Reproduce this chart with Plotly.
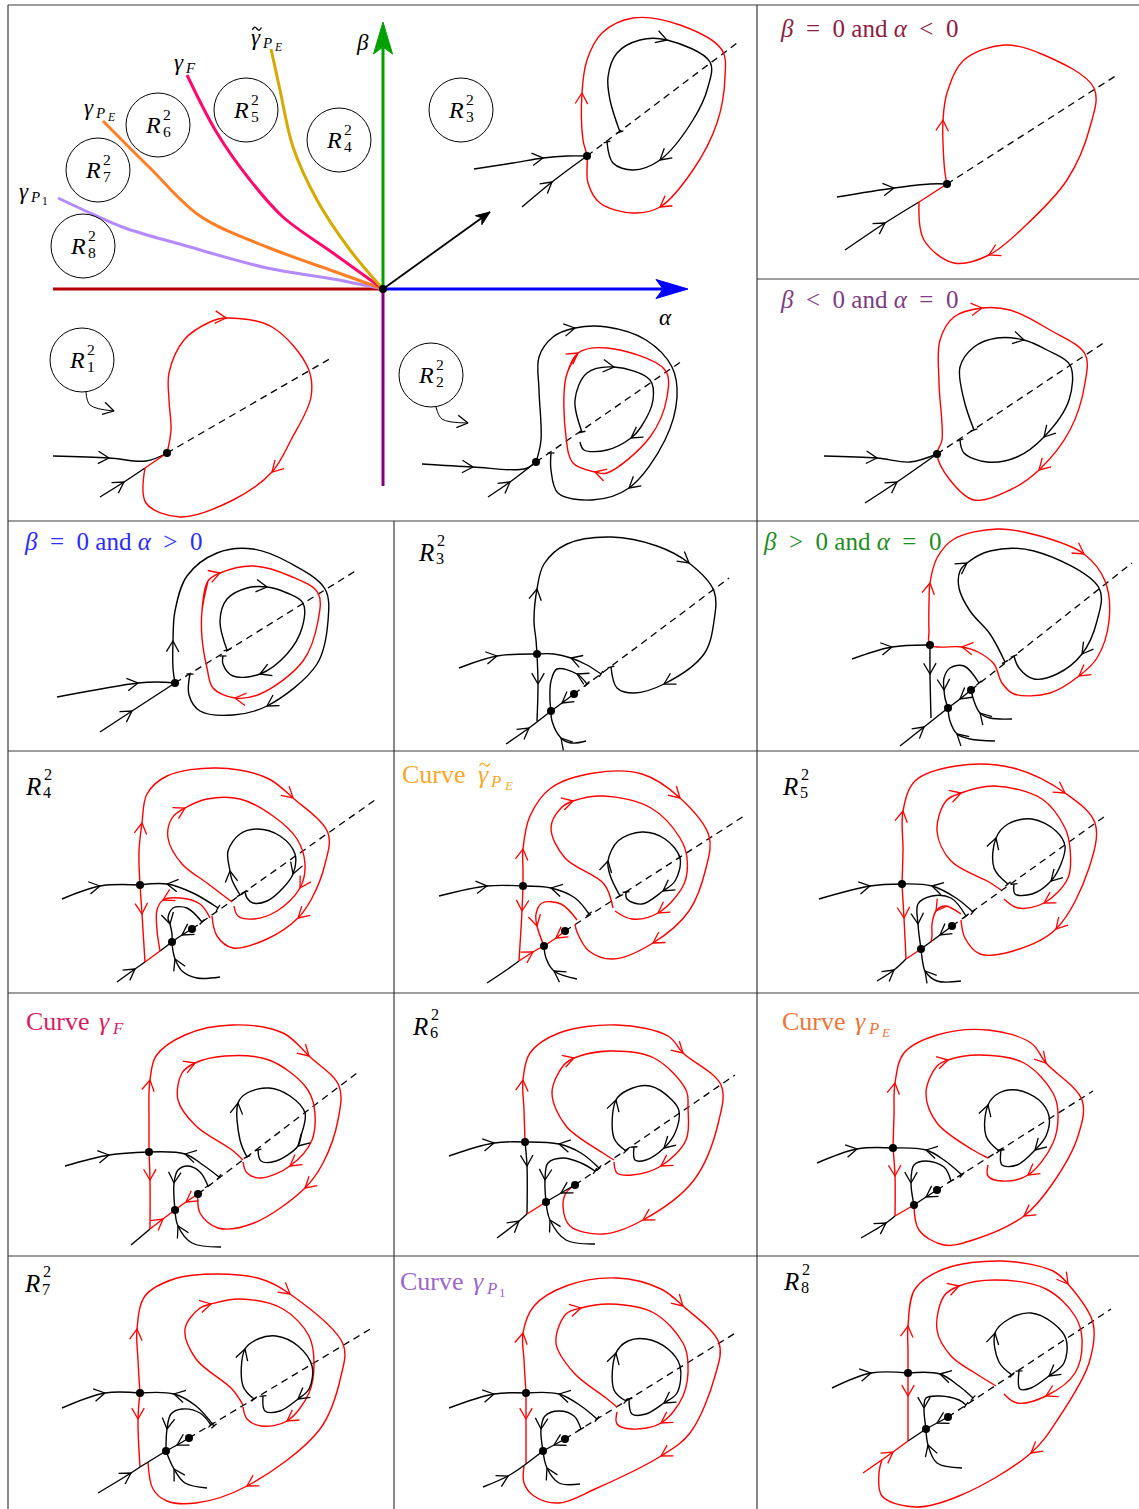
import math
import plotly.graph_objects as go

W, H = 1139, 1509
FONT = "Liberation Serif"
RED = "#ff0000"
BLK = "#000000"

# ---------------- frame ----------------
frame_h_y = [5, 279, 521, 751, 993, 1256]
frame_h_x0 = [8, 757, 8, 8, 8, 8]
frame_v_x = [8, 757, 394]
frame_v_y0 = [5, 5, 521]

# ---------------- main bifurcation diagram ----------------
origin = (383, 289)
alpha_neg_end = (53, 289)
alpha_pos_end = (688, 289)
beta_pos_end = (383, 22)
beta_neg_end = (383, 486)
diag_end = (490, 212)
gamma_P1 = [(58, 198), (88, 212), (125, 228), (183, 245), (267, 268), (333, 279), (383, 289)]
gamma_PE = [(103, 121), (150, 168), (200, 216), (267, 247), (333, 271), (383, 289)]
gamma_F = [(187, 75), (217, 133), (250, 180), (283, 217), (333, 253), (383, 289)]
gamma_tPE = [(271, 49), (280, 90), (293, 147), (317, 200), (350, 250), (383, 289)]
circle_names = ["8", "7", "6", "5", "4", "3", "1", "2"]
circle_cx = [83, 98, 158, 246, 339, 461, 82, 431]
circle_cy = [246, 170, 125, 110, 140, 110, 360, 375]
ptr_R1 = [(86, 392), (90, 405), (114, 411)]
ptr_R2 = [(436, 407), (442, 419), (468, 423)]

# R3 portrait in main
m3_in1 = [(474, 169), (513, 163), (543, 158), (567, 156), (587, 156)]
m3_in2 = [(522, 207), (552, 182), (587, 156)]
m3_dash = [(587, 156), (737, 43)]
m3_red = [(587, 156), (583, 140), (582, 93), (587, 60), (602, 33), (633, 18), (680, 25), (722, 50), (725, 77),
          (717, 123), (693, 170), (660, 207), (633, 213), (600, 203), (588, 183), (587, 156)]
m3_blk = [(620, 132), (610, 100), (608, 77), (617, 53), (640, 40), (667, 40), (710, 62), (708, 87), (693, 120),
          (660, 160), (633, 170), (613, 163), (607, 142)]
m3_dots = [(587, 156)]
# R1 portrait
m1_in1 = [(53, 456), (109, 458), (146, 461), (167, 453)]
m1_in2 = [(100, 497), (124, 482), (145, 468)]
m1_seg = [(145, 468), (167, 453)]
m1_dash = [(167, 453), (333, 357)]
m1_red = [(167, 453), (171, 430), (169, 400), (169, 373), (184, 340), (210, 322), (226, 318), (272, 327), (308, 368),
          (311, 397), (291, 440), (272, 472), (233, 500), (180, 517), (146, 503), (145, 468)]
m1_dots = [(167, 453)]
# R2 portrait
m2_in1 = [(422, 464), (473, 467), (524, 469), (536, 462)]
m2_in2 = [(488, 497), (510, 482), (536, 462)]
m2_dash = [(536, 462), (682, 361)]
m2_out = [(536, 462), (541, 440), (539, 390), (539, 357), (553, 337), (575, 328), (607, 327), (646, 340), (672, 367),
          (677, 397), (665, 440), (629, 488), (592, 500), (558, 493), (551, 470), (551, 453)]
m2_red = [(566, 377), (578, 353), (607, 348), (665, 370), (667, 397), (650, 437), (607, 473), (595, 472), (573, 463),
          (566, 437), (566, 377), (578, 353)]
m2_blk = [(582, 432), (575, 400), (587, 373), (614, 367), (650, 380), (653, 400), (641, 427), (631, 438), (607, 450),
          (584, 450), (580, 442)]
m2_dots = [(536, 462)]

# ---------------- beta=0, alpha<0 ----------------
a_in1 = [(837, 197), (894, 188), (930, 184), (947, 184)]
a_in2 = [(845, 250), (885, 223), (919, 202)]
a_seg = [(919, 202), (947, 184)]
a_dash = [(947, 184), (1117, 75)]
a_red = [(947, 184), (945, 173), (943, 143), (943, 120), (947, 93), (964, 60), (1004, 45), (1044, 55), (1094, 88),
         (1090, 127), (1067, 180), (1024, 227), (989, 255), (954, 263), (924, 240), (919, 202)]
a_dots = [(947, 184)]
# ---------------- beta<0, alpha=0 ----------------
b_in1 = [(824, 456), (877, 458), (910, 462), (937, 454)]
b_in2 = [(865, 503), (897, 482), (937, 454)]
b_dash = [(937, 454), (1105, 342)]
b_red = [(937, 454), (942, 440), (939, 383), (940, 340), (954, 317), (982, 308), (1010, 310), (1050, 330), (1085, 354),
         (1085, 383), (1070, 430), (1039, 470), (1010, 490), (974, 500), (950, 480), (937, 454)]
b_blk = [(974, 430), (964, 400), (960, 367), (974, 347), (997, 338), (1024, 340), (1047, 350), (1070, 365), (1069, 400),
         (1044, 437), (1017, 457), (987, 462), (964, 453), (960, 440)]
b_dots = [(937, 454)]
# ---------------- beta=0, alpha>0 ----------------
c_in1 = [(57, 697), (138, 683), (157, 682), (175, 683)]
c_in2 = [(100, 732), (132, 711), (175, 683)]
c_dash = [(175, 683), (357, 570)]
c_out = [(175, 683), (173, 668), (173, 641), (175, 611), (187, 576), (217, 553), (253, 549), (290, 563), (325, 589),
         (328, 621), (317, 664), (267, 706), (233, 715), (200, 711), (189, 695), (190, 674)]
c_red = [(202, 611), (208, 581), (220, 573), (253, 566), (290, 576), (318, 593), (318, 621), (303, 661), (260, 694),
         (235, 698), (213, 688), (207, 668), (202, 638), (202, 611), (208, 581)]
c_blk = [(227, 650), (220, 621), (227, 599), (247, 588), (267, 587), (287, 593), (303, 603), (302, 628), (287, 654),
         (260, 674), (233, 676), (223, 664), (223, 656)]
c_dots = [(175, 683)]
# ---------------- R3 panel ----------------
d_left = [(459, 668), (497, 656), (537, 654)]
d_right = [(601, 674), (587, 665), (571, 658), (554, 654), (537, 654)]
d_up = [(537, 654), (536, 640), (534, 621), (537, 589), (544, 564), (567, 544), (611, 537), (657, 546), (689, 563),
        (714, 591), (714, 621), (704, 654), (664, 684), (634, 693), (617, 688), (611, 667)]
d_down = [(537, 654), (538, 684), (537, 721)]
d_line = [(506, 744), (529, 728), (551, 711)]
d_nd = [(574, 694), (562, 703), (551, 711)]
d_dash = [(574, 694), (729, 578)]
d_nup = [(587, 684), (577, 674), (557, 669), (551, 681), (550, 701), (551, 711)]
d_ndn = [(586, 741), (571, 743), (561, 738), (552, 721), (551, 711)]
d_dots = [(537, 654), (551, 711), (574, 694)]
# ---------------- beta>0, alpha=0 ----------------
e_left = [(852, 659), (892, 647), (930, 645)]
e_red = [(930, 645), (929, 631), (929, 604), (930, 583), (937, 558), (954, 539), (997, 529), (1040, 536), (1084, 554),
         (1105, 581), (1109, 621), (1097, 658), (1079, 676), (1050, 693), (1014, 694), (1002, 683), (994, 664),
         (978, 652), (962, 647), (930, 645)]
e_blk = [(1005, 662), (990, 634), (970, 611), (959, 588), (960, 571), (967, 563), (990, 551), (1034, 551), (1099, 588),
         (1097, 621), (1082, 654), (1057, 674), (1034, 679), (1019, 668), (1014, 656)]
e_down = [(930, 645), (930, 674), (931, 718)]
e_line = [(900, 746), (924, 727), (948, 708)]
e_nd = [(971, 690), (960, 699), (948, 708)]
e_dash = [(971, 690), (1132, 563)]
e_nup = [(979, 683), (964, 666), (950, 668), (944, 678), (944, 690), (945, 698), (948, 708)]
e_ndn = [(995, 741), (970, 739), (957, 734), (950, 721), (948, 708)]
e_ddn = [(1012, 719), (990, 718), (980, 713), (974, 701), (971, 690)]
e_dots = [(930, 645), (948, 708), (971, 690)]
# ---------------- R4 panel ----------------
f_left = [(62, 899), (100, 886), (140, 885)]
f_right = [(218, 908), (193, 893), (167, 884), (140, 885)]
f_up = [(140, 885), (139, 851), (142, 823), (147, 794), (167, 776), (217, 768), (267, 778), (293, 798), (328, 833),
        (325, 864), (312, 898), (298, 918), (267, 939), (233, 948), (217, 936), (212, 916)]
f_down = [(140, 885), (142, 914), (145, 962)]
f_line = [(117, 982), (135, 969), (145, 962)]
f_lred = [(145, 962), (160, 951)]
f_lblk = [(160, 951), (172, 942)]
f_nd = [(192, 929), (182, 935), (172, 942)]
f_dash = [(192, 929), (375, 800)]
f_small = [(210, 918), (200, 904), (180, 898), (163, 900), (157, 910), (157, 930), (160, 951)]
f_inred = [(232, 902), (207, 883), (182, 864), (168, 838), (172, 818), (185, 808), (207, 799), (240, 799), (273, 816),
           (297, 839), (305, 864), (300, 888), (277, 911), (253, 919), (238, 916), (234, 906)]
f_inblk = [(240, 895), (232, 880), (230, 871), (228, 851), (240, 834), (257, 829), (280, 836), (295, 854), (293, 874),
           (283, 888), (267, 901), (253, 903), (247, 898), (245, 892)]
f_nup = [(202, 922), (187, 908), (173, 908), (168, 918), (170, 924), (172, 934), (172, 942)]
f_ndn = [(220, 977), (197, 978), (182, 971), (175, 959), (173, 951), (172, 942)]
f_dots = [(140, 885), (172, 942), (192, 929)]
# ---------------- curve tilde gamma_PE panel ----------------
g_left = [(439, 896), (487, 886), (523, 886)]
g_right = [(589, 914), (575, 898), (551, 888), (523, 886)]
g_up = [(523, 886), (523, 870), (523, 849), (530, 816), (551, 788), (594, 773), (642, 774), (680, 798), (709, 836),
        (706, 868), (689, 911), (653, 943), (613, 959), (589, 951), (577, 932), (575, 924)]
g_down = [(523, 886), (522, 911), (519, 961)]
g_line = [(487, 983), (505, 971), (519, 961)]
g_lred = [(519, 961), (533, 952), (544, 946)]
g_nd = [(565, 931), (556, 938), (544, 946)]
g_dash = [(565, 931), (744, 816)]
g_small = [(577, 920), (561, 904), (542, 903), (536, 914), (537, 926), (544, 946)]
g_inred = [(613, 908), (604, 884), (565, 858), (551, 828), (561, 808), (573, 801), (604, 796), (651, 808), (680, 838),
           (687, 858), (684, 884), (658, 913), (632, 919), (615, 911)]
g_inblk = [(620, 896), (610, 875), (608, 861), (618, 841), (642, 832), (665, 839), (680, 858), (675, 881), (663, 891),
           (642, 904), (627, 899), (626, 892)]
g_ndn = [(577, 979), (554, 971), (546, 958), (544, 946)]
g_dots = [(523, 886), (544, 946), (565, 931)]
# ---------------- R5 panel ----------------
h_left = [(819, 899), (870, 886), (902, 884)]
h_right = [(973, 912), (956, 898), (932, 886), (902, 884)]
h_up = [(902, 884), (903, 850), (903, 811), (915, 781), (956, 766), (1013, 768), (1065, 793), (1095, 823), (1089, 868),
        (1056, 929), (1013, 951), (980, 954), (965, 938), (961, 920)]
h_down = [(902, 884), (904, 918), (906, 959)]
h_line = [(877, 981), (894, 970), (906, 959)]
h_lred = [(906, 959), (921, 949)]
h_nd = [(952, 926), (940, 935), (921, 949)]
h_dash = [(952, 926), (1108, 814)]
h_nup = [(966, 916), (951, 898), (932, 896), (918, 904), (918, 924), (921, 949)]
h_small = [(961, 914), (945, 906), (936, 911), (932, 924), (932, 936), (931, 942)]
h_ndn = [(961, 981), (937, 981), (925, 971), (923, 964), (921, 949)]
h_inred = [(1001, 890), (989, 882), (951, 861), (937, 831), (946, 801), (961, 793), (994, 786), (1042, 799),
           (1065, 828), (1070, 848), (1068, 878), (1044, 903), (1018, 908), (1004, 899)]
h_inblk = [(1008, 884), (994, 868), (996, 838), (1008, 824), (1032, 819), (1056, 831), (1065, 846), (1061, 864),
           (1051, 881), (1032, 894), (1015, 894), (1014, 884)]
h_dots = [(902, 884), (921, 949), (952, 926)]
# ---------------- curve gamma_F panel ----------------
i_left = [(65, 1166), (109, 1155), (149, 1152)]
i_right = [(219, 1177), (203, 1165), (185, 1154), (149, 1152)]
i_up = [(149, 1152), (149, 1120), (149, 1093), (150, 1080), (156, 1056), (185, 1035), (232, 1025), (283, 1033),
        (309, 1056), (339, 1086), (338, 1120), (323, 1163), (305, 1188), (254, 1223), (218, 1228), (200, 1213),
        (198, 1194)]
i_down = [(149, 1152), (150, 1180), (150, 1229)]
i_line = [(131, 1245), (150, 1229)]
i_lred = [(150, 1229), (163, 1219), (175, 1210)]
i_nd = [(198, 1194), (186, 1202), (175, 1210)]
i_dash = [(198, 1194), (357, 1073)]
i_nup = [(208, 1186), (200, 1172), (188, 1166), (178, 1170), (174, 1183), (175, 1210)]
i_ndn = [(221, 1247), (192, 1243), (178, 1226), (175, 1210)]
i_inred = [(243, 1160), (232, 1150), (196, 1126), (178, 1100), (182, 1073), (195, 1063), (225, 1056), (269, 1060),
           (305, 1086), (314, 1106), (312, 1140), (290, 1166), (261, 1178), (247, 1173), (243, 1162)]
i_inblk = [(247, 1157), (240, 1140), (238, 1103), (247, 1093), (269, 1088), (290, 1096), (305, 1113), (301, 1136),
           (298, 1146), (276, 1161), (261, 1161), (258, 1150)]
i_dots = [(149, 1152), (175, 1210), (198, 1194)]
# ---------------- R6 panel ----------------
j_left = [(449, 1156), (494, 1143), (525, 1142)]
j_right = [(599, 1168), (581, 1153), (559, 1144), (525, 1142)]
j_up = [(525, 1142), (524, 1110), (523, 1080), (530, 1053), (559, 1033), (617, 1025), (668, 1036), (683, 1053),
        (721, 1085), (719, 1120), (694, 1180), (643, 1220), (603, 1234), (570, 1226), (563, 1206), (566, 1193),
        (575, 1185)]
j_down = [(525, 1142), (527, 1166), (527, 1214)]
j_line = [(497, 1238), (519, 1221), (527, 1214)]
j_lred = [(527, 1214), (546, 1202)]
j_nd = [(575, 1185), (561, 1193), (546, 1202)]
j_dash = [(575, 1185), (735, 1075)]
j_nup = [(595, 1171), (581, 1163), (563, 1158), (548, 1163), (545, 1180), (546, 1202)]
j_ndn = [(595, 1244), (566, 1240), (550, 1220), (546, 1202)]
j_inred = [(614, 1160), (603, 1153), (566, 1126), (552, 1093), (563, 1066), (574, 1058), (610, 1051), (654, 1058),
           (686, 1090), (688, 1108), (686, 1140), (661, 1166), (632, 1175), (617, 1173), (614, 1162)]
j_inblk = [(626, 1151), (614, 1138), (616, 1100), (628, 1090), (650, 1086), (672, 1100), (679, 1111), (675, 1133),
           (664, 1148), (646, 1160), (635, 1160), (634, 1147)]
j_dots = [(525, 1142), (546, 1202), (575, 1185)]
# ---------------- curve gamma_PE panel ----------------
k_left = [(817, 1163), (857, 1149), (893, 1148)]
k_right = [(962, 1175), (944, 1160), (926, 1150), (893, 1148)]
k_up = [(893, 1148), (894, 1115), (895, 1083), (904, 1053), (937, 1035), (988, 1030), (1031, 1043), (1046, 1063),
        (1082, 1100), (1078, 1136), (1053, 1183), (1024, 1216), (973, 1240), (944, 1245), (919, 1230), (914, 1205)]
k_down = [(893, 1148), (895, 1176), (895, 1216)]
k_line = [(861, 1238), (886, 1223), (895, 1216)]
k_lred = [(895, 1216), (914, 1205)]
k_nd = [(937, 1190), (926, 1197), (914, 1205)]
k_dash = [(937, 1190), (1093, 1091)]
k_nup = [(951, 1181), (944, 1167), (926, 1161), (914, 1165), (911, 1183), (914, 1205)]
k_inred = [(988, 1158), (973, 1150), (937, 1123), (926, 1093), (937, 1066), (948, 1060), (980, 1055), (1024, 1063),
           (1053, 1093), (1058, 1113), (1053, 1143), (1028, 1175), (1002, 1181), (988, 1176), (988, 1165)]
k_inblk = [(999, 1151), (986, 1136), (988, 1105), (999, 1093), (1017, 1090), (1039, 1100), (1049, 1116),
           (1046, 1136), (1035, 1150), (1017, 1165), (1002, 1165), (1001, 1150)]
k_dots = [(893, 1148), (914, 1205), (937, 1190)]
# ---------------- R7 panel ----------------
l_left = [(62, 1408), (105, 1393), (140, 1393)]
l_right = [(214, 1426), (196, 1406), (174, 1394), (140, 1393)]
l_up = [(140, 1393), (138, 1360), (137, 1329), (145, 1296), (174, 1279), (218, 1274), (261, 1279), (290, 1294),
        (343, 1344), (341, 1376), (320, 1429), (247, 1486), (196, 1503), (167, 1501), (153, 1489), (148, 1462)]
l_down = [(140, 1393), (138, 1419), (140, 1467)]
l_line = [(98, 1493), (131, 1473), (140, 1467)]
l_lblk = [(140, 1467), (166, 1451)]
l_nd = [(189, 1438), (177, 1445), (166, 1451)]
l_dash = [(189, 1438), (372, 1328)]
l_nup = [(211, 1425), (200, 1413), (182, 1409), (171, 1414), (167, 1429), (166, 1451)]
l_ndn = [(207, 1488), (185, 1483), (174, 1469), (166, 1451)]
l_inred = [(243, 1405), (232, 1389), (196, 1359), (185, 1329), (200, 1308), (211, 1304), (240, 1299), (283, 1309),
           (309, 1336), (314, 1363), (309, 1393), (287, 1421), (261, 1426), (247, 1419), (243, 1407)]
l_inblk = [(254, 1399), (243, 1386), (245, 1349), (258, 1339), (276, 1336), (298, 1346), (312, 1366), (309, 1389),
           (298, 1399), (280, 1411), (265, 1411), (263, 1396)]
l_dots = [(140, 1393), (166, 1451), (189, 1438)]
# ---------------- curve gamma_P1 panel ----------------
n1_left = [(449, 1408), (494, 1394), (526, 1393)]
n1_right = [(597, 1419), (581, 1406), (559, 1394), (526, 1393)]
n1_up = [(526, 1393), (524, 1360), (523, 1333), (534, 1306), (566, 1286), (617, 1278), (661, 1289), (683, 1306),
         (719, 1343), (715, 1376), (690, 1433), (661, 1456), (595, 1489), (559, 1503), (534, 1496), (524, 1483),
         (524, 1466)]
n1_down = [(526, 1393), (526, 1419), (526, 1464)]
n1_line = [(483, 1487), (508, 1476), (526, 1464)]
n1_lblk = [(526, 1464), (543, 1451)]
n1_nd = [(565, 1439), (554, 1445), (543, 1451)]
n1_dash = [(565, 1439), (737, 1332)]
n1_nup = [(581, 1429), (574, 1416), (559, 1411), (545, 1416), (541, 1429), (543, 1451)]
n1_ndn = [(580, 1484), (559, 1483), (547, 1468), (543, 1451)]
n1_inred = [(617, 1407), (606, 1398), (574, 1373), (556, 1343), (566, 1314), (581, 1308), (610, 1304), (654, 1313),
            (683, 1343), (688, 1363), (683, 1396), (661, 1423), (632, 1429), (617, 1424), (617, 1412)]
n1_inblk = [(626, 1401), (614, 1390), (616, 1353), (628, 1341), (646, 1339), (668, 1349), (680, 1366), (677, 1393),
            (664, 1403), (646, 1414), (632, 1414), (629, 1399)]
n1_dots = [(526, 1393), (543, 1451), (565, 1439)]
# ---------------- R8 panel ----------------
n_left = [(832, 1388), (871, 1373), (908, 1373)]
n_right = [(973, 1398), (959, 1386), (940, 1374), (908, 1373)]
n_up = [(908, 1373), (908, 1350), (908, 1326), (915, 1289), (944, 1269), (1002, 1261), (1053, 1271), (1068, 1284),
        (1093, 1323), (1089, 1363), (1060, 1416), (1031, 1453), (959, 1496), (915, 1507), (882, 1496), (879, 1473),
        (882, 1460)]
n_down = [(908, 1373), (908, 1396), (908, 1441)]
n_line = [(863, 1473), (893, 1452), (908, 1441)]
n_lblk = [(908, 1441), (926, 1429)]
n_nd = [(948, 1417), (937, 1423), (926, 1429)]
n_dash = [(948, 1417), (1111, 1309)]
n_nup = [(966, 1405), (959, 1400), (940, 1396), (926, 1398), (924, 1408), (926, 1429)]
n_ndn = [(962, 1468), (937, 1463), (928, 1445), (926, 1429)]
n_inred = [(996, 1386), (975, 1373), (951, 1356), (937, 1330), (944, 1296), (959, 1286), (995, 1280), (1046, 1289),
           (1075, 1316), (1082, 1339), (1075, 1373), (1046, 1396), (1017, 1403), (1004, 1394)]
n_inblk = [(1012, 1375), (999, 1362), (995, 1333), (1009, 1319), (1031, 1313), (1053, 1323), (1066, 1339),
           (1064, 1363), (1049, 1376), (1031, 1388), (1020, 1389), (1019, 1371)]
n_dots = [(908, 1373), (926, 1429), (948, 1417)]

# ---------------- colours of labels ----------------
col_a = "#8c1d40"
col_b = "#7d3c80"
col_c = "#2b2bff"
col_e = "#1e8c1e"
col_tPE = "#f7a72a"
col_F = "#d81b60"
col_PE = "#ec7438"
col_P1 = "#9c66c8"
line_P1 = "#b48aff"
line_PE = "#ff7f27"
line_F = "#ff0a6c"
line_tPE = "#d4aa00"

# =====================================================================
fig = go.Figure()
ARR = {}
TICK = {}
AL, AANG = 12.5, math.radians(30)
LW = 1.4


def unit(a, b):
    dx, dy = b[0] - a[0], b[1] - a[1]
    n = math.hypot(dx, dy) or 1.0
    return dx / n, dy / n


def path(pts, color=BLK, arrows=(), ticks=(), width=LW, dash=None):
    xs = [p[0] for p in pts]
    ys = [p[1] for p in pts]
    fig.add_trace(go.Scatter(x=xs, y=ys, mode="lines",
                             line=dict(color=color, width=width, dash=dash,
                                       shape="spline" if len(pts) > 2 else "linear", smoothing=1.0),
                             hoverinfo="skip", showlegend=False))
    ax, ay = ARR.setdefault(color, ([], []))
    for i in arrows:
        ux, uy = unit(pts[max(i - 1, 0)], pts[min(i + 1, len(pts) - 1)])
        tx, ty = pts[i]
        pts_ch = []
        for s in (1, -1):
            c, sn = math.cos(AANG), math.sin(AANG) * s
            vx, vy = -ux, -uy
            rx, ry = vx * c - vy * sn, vx * sn + vy * c
            pts_ch.append((tx + AL * rx, ty + AL * ry))
        ax += [pts_ch[0][0], tx, pts_ch[1][0], None]
        ay += [pts_ch[0][1], ty, pts_ch[1][1], None]
    kx, ky = TICK.setdefault(color, ([], []))
    for e in ticks:
        if e == 0:
            ux, uy = unit(pts[0], pts[1])
            ex, ey = pts[0]
        else:
            ux, uy = unit(pts[-2], pts[-1])
            ex, ey = pts[-1]
        kx += [ex - 3.5 * uy, ex + 3.5 * uy, None]
        ky += [ey + 3.5 * ux, ey - 3.5 * ux, None]


def dashed(seg):
    path(seg, BLK, width=1.3, dash="7px,5px")


DOTS = []


def dots(lst):
    DOTS.extend(lst)


ann = []


def txt(x, y, s, size, color=BLK, xanchor="left"):
    ann.append(dict(x=x, y=y, xref="x", yref="y", text=s, showarrow=False, xanchor=xanchor, yanchor="middle",
                    borderpad=0, font=dict(family=FONT, size=size, color=color)))


ADV = {"R": 0.76, "γ": 0.47, "β": 0.55, "α": 0.55}
SUBADV = {"P": 0.8, "F": 0.8}


def mlabel(x, y, base, size, color=BLK, sub=None, subsub=None, sup=None, prefix=None, prefix_adv=2.9,
           tilde=False):
    if prefix:
        txt(x, y, prefix, size, color)
        x += prefix_adv * size
    txt(x, y, "<i>%s</i>" % base, size, color)
    w = ADV.get(base, 0.6) * size
    ss = 0.65 * size
    if tilde:
        cx, cy, hw = x + 0.30 * size, y - 0.36 * size, 0.2 * size
        fig.add_trace(go.Scatter(x=[cx - hw, cx - hw * 0.45, cx + hw * 0.45, cx + hw],
                                 y=[cy + 1.2, cy - 1.6, cy + 1.6, cy - 1.2], mode="lines",
                                 line=dict(color=color, width=1.3, shape="spline"),
                                 hoverinfo="skip", showlegend=False))
    if sup:
        txt(x + w, y - 0.45 * size, sup, ss, color)
    if sub:
        txt(x + w - (0.03 * size if sup else 0), y + 0.27 * size, "<i>%s</i>" % sub if sub.isalpha() else sub, ss,
            color)
        if subsub:
            txt(x + w + SUBADV.get(sub, 0.7) * ss, y + 0.45 * size,
                "<i>%s</i>" % subsub if subsub.isalpha() else subsub, 0.5 * size, color)


shapes = []
for y, x0 in zip(frame_h_y, frame_h_x0):
    shapes.append(dict(type="line", x0=x0, x1=W, y0=y, y1=y, line=dict(color="#3a3a3a", width=1.2)))
for x, y0 in zip(frame_v_x, frame_v_y0):
    shapes.append(dict(type="line", x0=x, x1=x, y0=y0, y1=H, line=dict(color="#3a3a3a", width=1.2)))

# ---------------- main diagram ----------------
path([alpha_neg_end, origin], "#b30000", width=3)
path([origin, (alpha_pos_end[0] - 26, alpha_pos_end[1])], "#0000ff", width=3)
path([origin, (beta_pos_end[0], beta_pos_end[1] + 26)], "#00a000", width=3)
path([origin, beta_neg_end], "#800080", width=3)
path(gamma_P1, line_P1, width=3)
path(gamma_PE, line_PE, width=3)
path(gamma_F, line_F, width=3)
path(gamma_tPE, line_tPE, width=3)


def filled_head(tip, base_from, length, half, notch, color):
    ux, uy = unit(base_from, tip)
    px, py = -uy, ux
    bx, by = tip[0] - ux * length, tip[1] - uy * length
    nx, ny = tip[0] - ux * (length - notch), tip[1] - uy * (length - notch)
    xs = [tip[0], bx + px * half, nx, bx - px * half, tip[0]]
    ys = [tip[1], by + py * half, ny, by - py * half, tip[1]]
    fig.add_trace(go.Scatter(x=xs, y=ys, mode="lines", fill="toself", fillcolor=color,
                             line=dict(color=color, width=1), hoverinfo="skip", showlegend=False))


filled_head(alpha_pos_end, origin, 32, 9.5, 7, "#0000ff")
filled_head(beta_pos_end, origin, 32, 9.5, 7, "#00a000")
path([origin, diag_end], BLK, width=1.8)
filled_head(diag_end, origin, 14, 5.5, 4, BLK)
dots([origin])

for nm, cx, cy in zip(circle_names, circle_cx, circle_cy):
    shapes.append(dict(type="circle", x0=cx - 32, x1=cx + 32, y0=cy - 32, y1=cy + 32,
                       line=dict(color=BLK, width=1)))
    mlabel(cx - 14, cy, "R", 24, sub=nm, sup="2")
path(ptr_R1, BLK, arrows=[2], width=1)
path(ptr_R2, BLK, arrows=[2], width=1)

mlabel(355, 42, "β", 23)
mlabel(658, 317, "α", 23)
mlabel(250, 37, "γ", 23, sub="P", subsub="E", tilde=True)
mlabel(173, 62, "γ", 23, sub="F")
mlabel(83, 107, "γ", 23, sub="P", subsub="E")
mlabel(18, 191, "γ", 23, sub="P", subsub="1")

# R3 portrait (main)
dashed(m3_dash)
path(m3_in1, arrows=[2])
path(m3_in2, arrows=[1])
path(m3_red, RED, arrows=[2, 11])
path(m3_blk, arrows=[5, 9], ticks=[0, 1])
dots(m3_dots)
# R1 portrait
dashed(m1_dash)
path(m1_in1, arrows=[1])
path(m1_in2, arrows=[1])
path(m1_seg, RED)
path(m1_red, RED, arrows=[6, 11])
dots(m1_dots)
# R2 portrait
dashed(m2_dash)
path(m2_in1, arrows=[1])
path(m2_in2, arrows=[1])
path(m2_out, arrows=[5, 11], ticks=[1])
path(m2_red, RED, arrows=[1, 7])
path(m2_blk, arrows=[3, 7], ticks=[0])
dots(m2_dots)

SP = "\u2002"


def cond(rel1, rel2):
    return "<i>β</i>%s%s%s0 and <i>α</i>%s%s%s0" % (SP, rel1, SP, SP, rel2, SP)


# ---------------- beta=0 alpha<0 ----------------
dashed(a_dash)
path(a_in1, arrows=[1])
path(a_in2, arrows=[1])
path(a_seg, RED)
path(a_red, RED, arrows=[3, 12])
dots(a_dots)
txt(779, 28, cond("=", "&lt;"), 25, col_a)
# ---------------- beta<0 alpha=0 ----------------
dashed(b_dash)
path(b_in1, arrows=[1])
path(b_in2, arrows=[1])
path(b_red, RED, arrows=[5, 11])
path(b_blk, arrows=[5, 9], ticks=[0, 1])
dots(b_dots)
txt(779, 299, cond("&lt;", "="), 25, col_b)
# ---------------- beta=0 alpha>0 ----------------
dashed(c_dash)
path(c_in1, arrows=[1])
path(c_in2, arrows=[1])
path(c_out, arrows=[2, 11], ticks=[1])
path(c_red, RED, arrows=[2, 9])
path(c_blk, arrows=[4, 9], ticks=[0, 1])
dots(c_dots)
txt(23, 541, cond("=", "&gt;"), 25, col_c)
# ---------------- R3 panel ----------------
dashed(d_dash)
path(d_left, arrows=[1])
path(d_right, arrows=[2], ticks=[0])
path(d_up, arrows=[3, 8, 12], ticks=[1])
path(d_down, arrows=[1])
path(d_line, arrows=[1])
path(d_nd, arrows=[1])
path(d_nup, arrows=[1], ticks=[0])
path(d_ndn, arrows=[2])
dots(d_dots)
mlabel(417, 552, "R", 25, sub="3", sup="2")
# ---------------- beta>0 alpha=0 ----------------
dashed(e_dash)
path(e_left, arrows=[1])
path(e_red, RED, arrows=[3, 8, 12, 18])
path(e_blk, arrows=[5, 10], ticks=[0, 1])
path(e_down, arrows=[1])
path(e_line, arrows=[1])
path(e_nd, arrows=[1])
path(e_nup, arrows=[4], ticks=[0])
path(e_ndn, arrows=[2])
path(e_ddn, arrows=[2])
dots(e_dots)
txt(762, 541, cond("&gt;", "="), 25, col_e)


# ---------------- generic family of lower panels ----------------
def family(left, right, up, down, line, nd, dash, nup, ndn, inred, inblk, dts,
           down_col=RED, line_col=BLK, line_arrow=True, lred=None, lblk=None, small=None,
           nd_col=BLK, lred_arrow=False, up_arrows=(2, 7, 11), ndn_arrow=2):
    dashed(dash)
    path(left, arrows=[1])
    path(right, arrows=[2], ticks=[0])
    path(up, RED, arrows=list(up_arrows))
    path(down, down_col, arrows=[1])
    path(line, line_col, arrows=[1] if line_arrow else [])
    if lred:
        path(lred, RED, arrows=[1] if lred_arrow else [])
    if lblk:
        path(lblk, BLK)
    path(nd, nd_col, arrows=[1])
    if nup:
        path(nup, arrows=[4], ticks=[0])
    if ndn:
        path(ndn, arrows=[ndn_arrow])
    if small:
        path(small, RED, arrows=[3 if len(small) == 7 else 2])
    path(inred, RED, arrows=[5, 11])
    path(inblk, arrows=[2, 8], ticks=[0, 1])
    dots(dts)


# R4
family(f_left, f_right, f_up, f_down, f_line, f_nd, f_dash, f_nup, f_ndn, f_inred, f_inblk, f_dots,
       lred=f_lred, lblk=f_lblk, small=f_small, ndn_arrow=3)
mlabel(24, 786, "R", 25, sub="4", sup="2")
# tilde gamma_PE
dashed(g_dash)
path(g_left, arrows=[1])
path(g_right, arrows=[2], ticks=[0])
path(g_up, RED, arrows=[2, 7, 11])
path(g_down, RED, arrows=[1])
path(g_line, BLK)
path(g_lred, RED, arrows=[1])
path(g_nd, RED, arrows=[1])
path(g_small, RED, arrows=[4])
path(g_inred, RED, arrows=[5, 11])
path(g_inblk, arrows=[2, 8], ticks=[0, 1])
path(g_ndn, arrows=[1])
dots(g_dots)
mlabel(401, 774, "γ", 26, col_tPE, sub="P", subsub="E", prefix="Curve", prefix_adv=2.92, tilde=True)
# R5
family(h_left, h_right, h_up, h_down, h_line, h_nd, h_dash, h_nup, h_ndn, h_inred, h_inblk, h_dots,
       lred=h_lred, small=h_small, up_arrows=(2, 6, 9))
mlabel(781, 786, "R", 25, sub="5", sup="2")
# gamma_F
family(i_left, i_right, i_up, i_down, i_line, i_nd, i_dash, i_nup, i_ndn, i_inred, i_inblk, i_dots,
       line_arrow=False, lred=i_lred, lred_arrow=True, nd_col=RED, up_arrows=(3, 8, 12))
mlabel(25, 1021, "γ", 26, col_F, sub="F", prefix="Curve", prefix_adv=2.82)
# R6
family(j_left, j_right, j_up, j_down, j_line, j_nd, j_dash, j_nup, j_ndn, j_inred, j_inblk, j_dots,
       down_col=BLK, lred=j_lred)
mlabel(411, 1026, "R", 25, sub="6", sup="2")
# gamma_PE
family(k_left, k_right, k_up, k_down, k_line, k_nd, k_dash, k_nup, None, k_inred, k_inblk, k_dots,
       lred=k_lred)
mlabel(781, 1021, "γ", 26, col_PE, sub="P", subsub="E", prefix="Curve", prefix_adv=2.82)
# R7
family(l_left, l_right, l_up, l_down, l_line, l_nd, l_dash, l_nup, l_ndn, l_inred, l_inblk, l_dots,
       lblk=l_lblk)
mlabel(23, 1283, "R", 25, sub="7", sup="2")
# gamma_P1
family(n1_left, n1_right, n1_up, n1_down, n1_line, n1_nd, n1_dash, n1_nup, n1_ndn, n1_inred, n1_inblk, n1_dots,
       lblk=n1_lblk)
mlabel(399, 1281, "γ", 26, col_P1, sub="P", subsub="1", prefix="Curve", prefix_adv=2.82)
# R8
family(n_left, n_right, n_up, n_down, n_line, n_nd, n_dash, n_nup, n_ndn, n_inred, n_inblk, n_dots,
       line_col=RED, lblk=n_lblk)
mlabel(782, 1281, "R", 25, sub="8", sup="2")

# arrows, ticks, dots
for col in list(ARR.keys()):
    ax, ay = ARR[col]
    if ax:
        fig.add_trace(go.Scatter(x=ax, y=ay, mode="lines", line=dict(color=col, width=1.3),
                                 hoverinfo="skip", showlegend=False))
for col in list(TICK.keys()):
    kx, ky = TICK[col]
    if kx:
        fig.add_trace(go.Scatter(x=kx, y=ky, mode="lines", line=dict(color=col, width=1.3),
                                 hoverinfo="skip", showlegend=False))
fig.add_trace(go.Scatter(x=[p[0] for p in DOTS], y=[p[1] for p in DOTS], mode="markers",
                         marker=dict(color=BLK, size=8), hoverinfo="skip", showlegend=False))

fig.update_layout(width=W, height=H, margin=dict(l=0, r=0, t=0, b=0),
                  paper_bgcolor="white", plot_bgcolor="white", showlegend=False,
                  xaxis=dict(range=[0, W], visible=False, fixedrange=True),
                  yaxis=dict(range=[H, 0], visible=False, fixedrange=True),
                  shapes=shapes, annotations=ann)
fig.write_html("out.html", config={"displayModeBar": False},
               post_script="document.body.style.margin='0';")
